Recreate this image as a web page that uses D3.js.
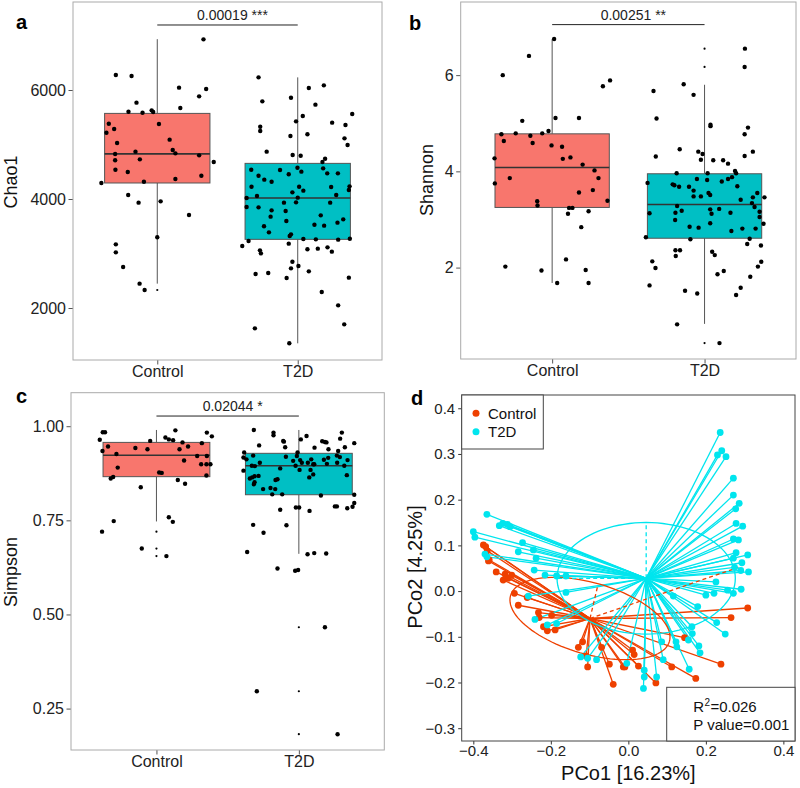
<!DOCTYPE html>
<html><head><meta charset="utf-8">
<script src="https://cdn.jsdelivr.net/npm/d3@7"></script>
<style>body{margin:0;background:#fff}svg{display:block;font-family:"Liberation Sans",Arial,sans-serif}</style>
</head><body><svg id="chart" width="800" height="788"></svg>
<script>
// ---------------- DATA ----------------
const categories = ["Control", "T2D"];
const boxColors = ["#F8766D", "#00BFC4"];
const pcoColors = ["#EE4000", "#00E5EE"];

// Chao1: box stats [q1, median, q3, lowWhisker, highWhisker]
const chaoStats = [[4294, 4828, 5571, 2447, 6933], [3260, 4018, 4654, 1352, 6232]];
const chaoOutliers = [[2330], []];
const chaoControl = [[-0.295,6275],[-0.183,6257],[0.329,6930],[0.155,6043],[0.348,6018],[0.298,5884],[-0.148,5768],[0.164,5670],[-0.205,5602],[-0.105,5584],[-0.040,5627],[-0.029,5596],[0.012,5376],[-0.345,5382],[-0.362,5217],[-0.307,5284],[-0.286,5028],[0.088,5089],[0.110,4899],[0.129,4838],[-0.155,4869],[-0.300,4826],[-0.300,4710],[-0.124,4728],[-0.298,4538],[-0.210,4495],[0.298,4801],[0.402,4679],[0.314,4428],[0.129,4367],[-0.095,4318],[-0.398,4294],[-0.207,4073],[-0.133,3933],[0.024,3957],[0.226,3707],[0.000,3297],[-0.295,3168],[-0.295,3021],[-0.243,2752],[-0.126,2447],[-0.090,2330]];
const chaoT2D = [[-0.279,6232],[0.186,6086],[0.079,6037],[-0.048,5859],[-0.252,5792],[0.126,5731],[0.388,5560],[0.036,5523],[-0.012,5425],[0.245,5401],[0.340,5358],[-0.267,5327],[-0.267,5248],[0.069,5187],[-0.052,5156],[0.333,5113],[0.355,4991],[-0.221,4869],[-0.036,4807],[0.021,4795],[0.195,4740],[0.176,4679],[-0.002,4575],[-0.331,4538],[-0.126,4532],[-0.064,4453],[0.026,4502],[0.181,4563],[0.210,4471],[0.286,4471],[-0.279,4428],[-0.238,4355],[-0.186,4318],[-0.329,4226],[0.010,4226],[0.238,4220],[0.369,4232],[0.364,4165],[0.040,4153],[-0.038,4122],[0.274,4073],[-0.364,4018],[-0.290,4055],[0.000,4025],[-0.012,3939],[-0.098,3933],[0.231,3933],[-0.364,3853],[-0.279,3847],[-0.186,3792],[-0.086,3780],[-0.193,3676],[0.164,3700],[-0.081,3596],[0.324,3627],[0.283,3566],[0.119,3529],[0.188,3511],[-0.240,3499],[-0.205,3388],[-0.048,3352],[-0.057,3321],[-0.350,3229],[0.040,3266],[0.129,3260],[0.288,3254],[0.371,3272],[-0.395,3138],[-0.064,3181],[-0.269,3058],[-0.262,3003],[0.069,3077],[0.143,3089],[0.212,3113],[0.243,3034],[-0.038,2850],[-0.048,2728],[0.005,2771],[-0.300,2624],[-0.210,2642],[0.079,2673],[-0.079,2551],[0.364,2557],[0.171,2294],[0.288,2049],[0.331,1700],[-0.305,1627],[-0.060,1352]];

// Shannon
const shannonStats = [[3.25, 4.08, 4.78, 1.68, 6.75], [2.61, 3.31, 3.95, 0.83, 5.80]];
const shannonOutliers = [[], [6.55, 6.17, 0.43]];
const shannonControl = [[0.013,6.75],[-0.152,6.40],[-0.324,6.00],[0.380,5.89],[0.333,5.77],[0.022,5.11],[0.176,5.11],[-0.196,5.05],[-0.239,4.79],[-0.333,4.77],[-0.143,4.74],[-0.065,4.79],[-0.024,4.84],[-0.317,4.63],[-0.128,4.59],[-0.004,4.54],[0.065,4.51],[0.070,4.26],[0.120,4.29],[-0.378,4.27],[0.200,4.14],[0.278,4.02],[-0.278,3.86],[0.304,3.86],[-0.376,3.75],[0.267,3.61],[0.176,3.56],[0.363,3.39],[-0.098,3.38],[-0.096,3.29],[0.111,3.24],[0.133,3.24],[0.239,3.17],[0.104,3.12],[0.191,2.84],[0.091,2.17],[-0.307,2.02],[-0.070,1.94],[0.220,1.95],[0.033,1.68],[0.239,1.68]];
const shannonT2D = [[0.265,6.55],[0.263,6.17],[-0.137,5.81],[-0.335,5.67],[-0.072,5.59],[-0.315,5.10],[0.039,4.97],[0.039,4.94],[0.285,4.91],[0.263,4.77],[-0.163,4.46],[-0.041,4.41],[0.317,4.41],[-0.013,4.36],[-0.320,4.31],[0.263,4.32],[-0.024,4.24],[0.057,4.23],[0.122,4.23],[0.154,4.16],[-0.183,3.96],[0.020,3.96],[0.200,4.01],[0.207,3.96],[0.180,3.88],[0.154,3.84],[-0.050,3.84],[0.017,3.82],[0.113,3.79],[-0.374,3.76],[-0.209,3.73],[-0.198,3.71],[-0.167,3.68],[-0.102,3.68],[0.215,3.69],[-0.072,3.60],[0.026,3.55],[0.037,3.51],[0.346,3.55],[-0.072,3.48],[-0.024,3.48],[0.393,3.46],[0.317,3.46],[0.237,3.41],[0.311,3.34],[-0.180,3.28],[0.328,3.26],[0.037,3.21],[0.096,3.22],[-0.150,3.18],[-0.191,3.14],[-0.361,3.13],[0.361,3.16],[0.046,3.12],[0.170,3.14],[0.361,3.05],[-0.193,2.99],[0.037,2.92],[0.387,2.91],[-0.098,2.85],[-0.039,2.83],[0.248,2.81],[0.335,2.81],[0.176,2.76],[-0.385,2.63],[-0.093,2.59],[0.296,2.60],[0.280,2.49],[0.370,2.46],[-0.191,2.36],[-0.161,2.36],[0.050,2.33],[0.067,2.26],[-0.189,2.24],[-0.343,2.13],[0.372,2.12],[0.350,2.02],[-0.322,1.99],[0.126,1.93],[0.085,1.86],[0.300,1.81],[-0.361,1.63],[0.237,1.58],[-0.128,1.52],[-0.048,1.46],[0.207,1.43],[-0.180,0.82],[0.098,0.43]];

// Simpson
const simpsonStats = [[0.866, 0.923, 0.957, 0.747, 0.990], [0.818, 0.895, 0.928, 0.661, 0.990]];
const simpsonOutliers = [[0.720, 0.675, 0.655], [0.618, 0.466, 0.296, 0.182]];
const simpsonControl = [[-0.377,0.984],[-0.361,0.984],[-0.398,0.964],[0.133,0.989],[0.063,0.970],[0.087,0.965],[0.117,0.963],[0.354,0.983],[0.389,0.973],[0.183,0.957],[0.319,0.955],[0.222,0.946],[-0.044,0.961],[-0.379,0.934],[-0.340,0.946],[-0.148,0.942],[-0.063,0.939],[0.162,0.939],[-0.281,0.926],[0.286,0.921],[0.354,0.921],[0.194,0.909],[0.314,0.899],[0.351,0.899],[0.379,0.899],[-0.272,0.890],[0.019,0.877],[0.037,0.876],[0.351,0.869],[-0.304,0.865],[-0.321,0.861],[0.150,0.857],[0.201,0.847],[-0.110,0.838],[-0.300,0.748],[0.087,0.758],[0.115,0.746],[-0.382,0.720],[-0.103,0.675],[0.070,0.655]];
const simpsonT2D = [[-0.316,0.990],[-0.178,0.983],[-0.178,0.976],[-0.110,0.961],[-0.105,0.959],[0.014,0.965],[0.054,0.974],[0.164,0.960],[0.183,0.958],[0.194,0.957],[0.302,0.983],[0.290,0.967],[0.389,0.955],[-0.279,0.949],[-0.384,0.930],[-0.096,0.944],[0.110,0.943],[0.208,0.939],[0.323,0.944],[0.276,0.934],[-0.389,0.917],[-0.368,0.912],[-0.321,0.922],[-0.091,0.919],[-0.040,0.908],[-0.014,0.921],[-0.009,0.930],[0.009,0.910],[0.087,0.912],[0.021,0.903],[0.108,0.899],[0.176,0.911],[0.206,0.916],[0.288,0.918],[0.342,0.910],[0.267,0.922],[-0.330,0.895],[-0.309,0.894],[-0.274,0.903],[-0.131,0.888],[-0.023,0.895],[0.063,0.903],[0.101,0.899],[0.197,0.900],[0.269,0.903],[0.319,0.895],[-0.389,0.882],[0.005,0.884],[0.082,0.884],[0.101,0.872],[0.073,0.864],[-0.328,0.864],[-0.311,0.867],[-0.283,0.868],[-0.344,0.861],[-0.316,0.846],[-0.164,0.857],[-0.150,0.859],[0.337,0.870],[-0.251,0.833],[-0.199,0.836],[-0.166,0.833],[-0.311,0.851],[-0.187,0.819],[-0.117,0.819],[0.155,0.816],[0.389,0.818],[-0.021,0.784],[0.002,0.784],[0.253,0.787],[0.267,0.787],[0.340,0.782],[0.377,0.786],[0.389,0.796],[-0.131,0.778],[0.075,0.775],[-0.321,0.738],[-0.087,0.737],[-0.248,0.717],[-0.363,0.666],[0.061,0.660],[0.108,0.663],[0.192,0.662],[-0.150,0.622],[-0.026,0.616],[-0.005,0.618],[0.183,0.466],[-0.295,0.296],[0.272,0.182]];

const sigLabels = ["0.00019 ***", "0.00251 **", "0.02044 *"];
const sigLevels = [7193, 7.05, 1.027];

// PCoA
const pcoControl = [[-0.374,0.101],[-0.368,0.097],[-0.364,0.088],[-0.359,0.068],[-0.361,0.066],[-0.341,0.042],[-0.318,0.037],[-0.301,0.035],[-0.323,0.024],[-0.310,0.028],[-0.294,-0.005],[-0.284,-0.031],[-0.261,-0.014],[-0.232,-0.047],[-0.230,-0.058],[-0.198,-0.053],[-0.219,-0.078],[-0.209,-0.087],[-0.189,-0.085],[-0.129,-0.123],[-0.118,-0.111],[-0.105,-0.166],[-0.109,-0.142],[-0.069,-0.123],[-0.049,-0.160],[-0.039,-0.204],[-0.013,-0.166],[-0.009,-0.166],[0.011,-0.129],[0.015,-0.139],[0.026,-0.164],[0.071,-0.201],[0.112,-0.166],[0.145,-0.102],[0.174,-0.191],[0.239,-0.160],[0.265,-0.058],[0.308,-0.037]];
const pcoT2D = [[0.237,0.347],[0.230,0.298],[0.241,0.307],[0.252,0.294],[0.271,0.247],[0.271,0.210],[0.286,0.192],[0.277,0.180],[0.278,0.148],[0.295,0.142],[0.271,0.114],[0.284,0.112],[0.278,0.084],[0.308,0.079],[0.293,0.062],[0.271,0.072],[0.274,0.052],[0.310,0.042],[0.290,0.045],[0.226,0.020],[0.221,-0.005],[0.200,-0.009],[0.256,0.002],[0.271,-0.005],[0.291,0.004],[0.116,-0.011],[0.179,-0.034],[0.228,-0.069],[0.250,-0.094],[0.164,-0.078],[0.165,-0.093],[0.155,-0.107],[0.182,-0.120],[0.185,-0.135],[0.123,-0.111],[0.125,-0.122],[0.086,-0.111],[0.090,-0.150],[0.157,-0.171],[0.041,-0.173],[0.073,-0.188],[0.041,-0.188],[0.039,-0.213],[-0.004,-0.158],[-0.082,-0.150],[-0.105,-0.147],[-0.123,-0.144],[-0.365,0.168],[-0.400,0.130],[-0.396,0.118],[-0.333,0.143],[-0.324,0.148],[-0.312,0.146],[-0.305,0.141],[-0.273,0.106],[-0.284,0.086],[-0.245,0.090],[-0.238,0.072],[-0.370,0.081],[-0.365,0.075],[-0.243,0.046],[-0.215,0.035],[-0.185,0.033],[-0.161,0.033],[-0.161,-0.003],[-0.258,-0.011],[-0.241,-0.062],[-0.209,-0.074],[-0.185,-0.071]];
const pcoCentroids = [[-0.099, -0.060], [0.046, 0.028]];
const ellipseAxisA = [[0.205, -0.050], [0.230, 0]];
const ellipseAxisB = [[0.025, 0.075], [0, 0.122]];
const ellipseDashEnds = [[[-0.080, 0.008], [0.284, 0.052]], [[0.046, 0.150], [-0.184, 0.028]]];
const pcoStats = ["0.026", "0.001"];
const pcoAxisTitles = ["PCo1 [16.23%]", "PCo2 [4.25%]"];

// ---------------- DRAW ----------------
const svg = d3.select("#chart");
const FONT = '"Liberation Sans", Arial, sans-serif';

function boxPanel(c) {
  const g = svg.append("g");
  const x = d3.scalePoint().domain(categories).range([c.x0, c.x1]).padding(0.6);
  const y = d3.scaleLinear().domain(c.domain).range([c.y1, c.y0]);
  const step = x.step(), bw = 0.75 * step;

  const ya = g.append("g").attr("transform", `translate(${c.x0},0)`)
    .call(d3.axisLeft(y).tickValues(c.ticks).tickFormat(c.fmt).tickSize(4.5).tickPadding(2.5));
  ya.select(".domain").remove();
  ya.selectAll("line").attr("stroke", "#555");
  ya.selectAll("text").attr("font-size", 16).attr("fill", "#222").attr("font-family", FONT);

  const xa = g.append("g").attr("transform", `translate(0,${c.y1})`)
    .call(d3.axisBottom(x).tickSize(4.5).tickPadding(1.5));
  xa.select(".domain").remove();
  xa.selectAll("line").attr("stroke", "#555");
  xa.selectAll("text").attr("font-size", 16).attr("fill", "#222").attr("font-family", FONT);

  categories.forEach((cat, i) => {
    const [q1, med, q3, lo, hi] = c.stats[i];
    const cx = x(cat);
    g.append("line").attr("x1", cx).attr("x2", cx).attr("y1", y(hi)).attr("y2", y(q3)).attr("stroke", "#555").attr("stroke-width", 1);
    g.append("line").attr("x1", cx).attr("x2", cx).attr("y1", y(q1)).attr("y2", y(lo)).attr("stroke", "#555").attr("stroke-width", 1);
    g.append("rect").attr("x", cx - bw / 2).attr("y", y(q3)).attr("width", bw).attr("height", y(q1) - y(q3))
      .attr("fill", boxColors[i]).attr("stroke", "#555").attr("stroke-width", 1);
    g.append("line").attr("x1", cx - bw / 2).attr("x2", cx + bw / 2).attr("y1", y(med)).attr("y2", y(med)).attr("stroke", "#333").attr("stroke-width", 1.6);
    g.selectAll(null).data(c.outliers[i]).join("circle")
      .attr("cx", cx).attr("cy", d => y(d)).attr("r", 1.1).attr("fill", "#000");
    g.selectAll(null).data(c.points[i]).join("circle")
      .attr("cx", d => cx + d[0] * step).attr("cy", d => y(d[1])).attr("r", 2.2).attr("fill", "#000");
  });

  g.append("rect").attr("x", c.x0).attr("y", c.y0).attr("width", c.x1 - c.x0).attr("height", c.y1 - c.y0)
    .attr("fill", "none").attr("stroke", "#aaa").attr("stroke-width", 1);

  const sy = y(c.sigLevel);
  g.append("line").attr("x1", x(categories[0])).attr("x2", x(categories[1])).attr("y1", sy).attr("y2", sy).attr("stroke", "#222").attr("stroke-width", 1);
  g.append("text").attr("x", (x(categories[0]) + x(categories[1])) / 2 + 5).attr("y", sy - 5)
    .attr("text-anchor", "middle").attr("font-size", 14).attr("fill", "#222").text(c.sigText);

  g.append("text").attr("transform", `translate(${c.ylx},${c.yly}) rotate(-90)`)
    .attr("text-anchor", "middle").attr("font-size", 18).attr("fill", "#111").text(c.ylabel);
  g.append("text").attr("x", c.lx).attr("y", c.ly).attr("font-size", 20).attr("font-weight", "bold").text(c.letter);
}

boxPanel({x0: 73, x1: 382, y0: 2, y1: 360, domain: [1046, 7615], ticks: [2000, 4000, 6000], fmt: d3.format("d"),
  stats: chaoStats, outliers: chaoOutliers, points: [chaoControl, chaoT2D], sigLevel: sigLevels[0], sigText: sigLabels[0],
  ylabel: "Chao1", ylx: 17, yly: 182, letter: "a", lx: 16, ly: 29});
boxPanel({x0: 460.7, x1: 796, y0: 2, y1: 359, domain: [0.10, 7.52], ticks: [2, 4, 6], fmt: d3.format("d"),
  stats: shannonStats, outliers: shannonOutliers, points: [shannonControl, shannonT2D], sigLevel: sigLevels[1], sigText: sigLabels[1],
  ylabel: "Shannon", ylx: 433, yly: 180, letter: "b", lx: 409, ly: 30});
boxPanel({x0: 71, x1: 384.3, y0: 392.7, y1: 750, domain: [0.140, 1.089], ticks: [0.25, 0.5, 0.75, 1.0], fmt: d3.format(".2f"),
  stats: simpsonStats, outliers: simpsonOutliers, points: [simpsonControl, simpsonT2D], sigLevel: sigLevels[2], sigText: sigLabels[2],
  ylabel: "Simpson", ylx: 17, yly: 572, letter: "c", lx: 16, ly: 403});

// ---- Panel d ----
(function () {
  const g = svg.append("g");
  const X0 = 461.7, X1 = 795, Y0 = 395, Y1 = 741;
  const x = d3.scaleLinear().domain([-0.430, 0.430]).range([X0, X1]);
  const y = d3.scaleLinear().domain([-0.328, 0.429]).range([Y1, Y0]);

  const ya = g.append("g").attr("transform", `translate(${X0},0)`)
    .call(d3.axisLeft(y).tickValues([-0.3, -0.2, -0.1, 0, 0.1, 0.2, 0.3, 0.4]).tickFormat(d3.format(".1f")).tickSize(3.5).tickPadding(3));
  ya.select(".domain").remove();
  ya.selectAll("line").attr("stroke", "#333");
  ya.selectAll("text").attr("font-size", 15).attr("fill", "#222").attr("font-family", FONT);
  const xa = g.append("g").attr("transform", `translate(0,${Y1})`)
    .call(d3.axisBottom(x).tickValues([-0.4, -0.2, 0, 0.2, 0.4]).tickFormat(d3.format(".1f")).tickSize(3.5).tickPadding(1));
  xa.select(".domain").remove();
  xa.selectAll("line").attr("stroke", "#333");
  xa.selectAll("text").attr("font-size", 15).attr("fill", "#222").attr("font-family", FONT);

  const groups = [pcoControl, pcoT2D];
  groups.forEach((pts, i) => {
    const c = pcoCentroids[i];
    g.selectAll(null).data(pts).join("line")
      .attr("x1", x(c[0])).attr("y1", y(c[1])).attr("x2", d => x(d[0])).attr("y2", d => y(d[1]))
      .attr("stroke", pcoColors[i]).attr("stroke-width", 1.3);
  });
  const line = d3.line().x(d => x(d[0])).y(d => y(d[1]));
  groups.forEach((pts, i) => {
    const c = pcoCentroids[i], A = ellipseAxisA[i], B = ellipseAxisB[i];
    const ring = d3.range(0, 101).map(k => {
      const t = 2 * Math.PI * k / 100;
      return [c[0] + A[0] * Math.cos(t) + B[0] * Math.sin(t), c[1] + A[1] * Math.cos(t) + B[1] * Math.sin(t)];
    });
    g.append("path").attr("d", line(ring)).attr("fill", "none").attr("stroke", pcoColors[i]).attr("stroke-width", 1.3);
    ellipseDashEnds[i].forEach(e => {
      g.append("line").attr("x1", x(c[0])).attr("y1", y(c[1])).attr("x2", x(e[0])).attr("y2", y(e[1]))
        .attr("stroke", pcoColors[i]).attr("stroke-width", 1.3).attr("stroke-dasharray", "4,3");
    });
  });
  groups.forEach((pts, i) => {
    g.selectAll(null).data(pts).join("circle")
      .attr("cx", d => x(d[0])).attr("cy", d => y(d[1])).attr("r", 3.4).attr("fill", pcoColors[i]);
  });

  g.append("rect").attr("x", X0).attr("y", Y0).attr("width", X1 - X0).attr("height", Y1 - Y0)
    .attr("fill", "none").attr("stroke", "#444").attr("stroke-width", 1);

  // legend
  g.append("rect").attr("x", X0).attr("y", Y0).attr("width", 81.6).attr("height", 54)
    .attr("fill", "#fff").attr("stroke", "#444").attr("stroke-width", 1);
  categories.forEach((cat, i) => {
    g.append("circle").attr("cx", 476).attr("cy", 413.3 + i * 18.4).attr("r", 3.5).attr("fill", pcoColors[i]);
    g.append("text").attr("x", 488).attr("y", 418.5 + i * 18.4).attr("font-size", 15).attr("fill", "#111").text(cat);
  });

  // stats box
  g.append("rect").attr("x", 666.7).attr("y", 687.3).attr("width", X1 - 666.7).attr("height", Y1 - 687.3)
    .attr("fill", "#fff").attr("stroke", "#444").attr("stroke-width", 1);
  g.append("text").attr("x", 693.3).attr("y", 712).attr("font-size", 15).attr("fill", "#111").text("R");
  g.append("text").attr("x", 704.4).attr("y", 705.7).attr("font-size", 10).attr("fill", "#111").text("2");
  g.append("text").attr("x", 710.4).attr("y", 712).attr("font-size", 15).attr("fill", "#111").text("=" + pcoStats[0]);
  g.append("text").attr("x", 693.3).attr("y", 729.6).attr("font-size", 15).attr("fill", "#111").text("P value=" + pcoStats[1]);

  // titles
  g.append("text").attr("x", (X0 + X1) / 2).attr("y", 780).attr("text-anchor", "middle").attr("font-size", 20).attr("fill", "#111").text(pcoAxisTitles[0]);
  g.append("text").attr("transform", `translate(422,567) rotate(-90)`).attr("text-anchor", "middle").attr("font-size", 20).attr("fill", "#111").text(pcoAxisTitles[1]);
  g.append("text").attr("x", 411).attr("y", 405).attr("font-size", 20).attr("font-weight", "bold").text("d");
})();
</script></body></html>
